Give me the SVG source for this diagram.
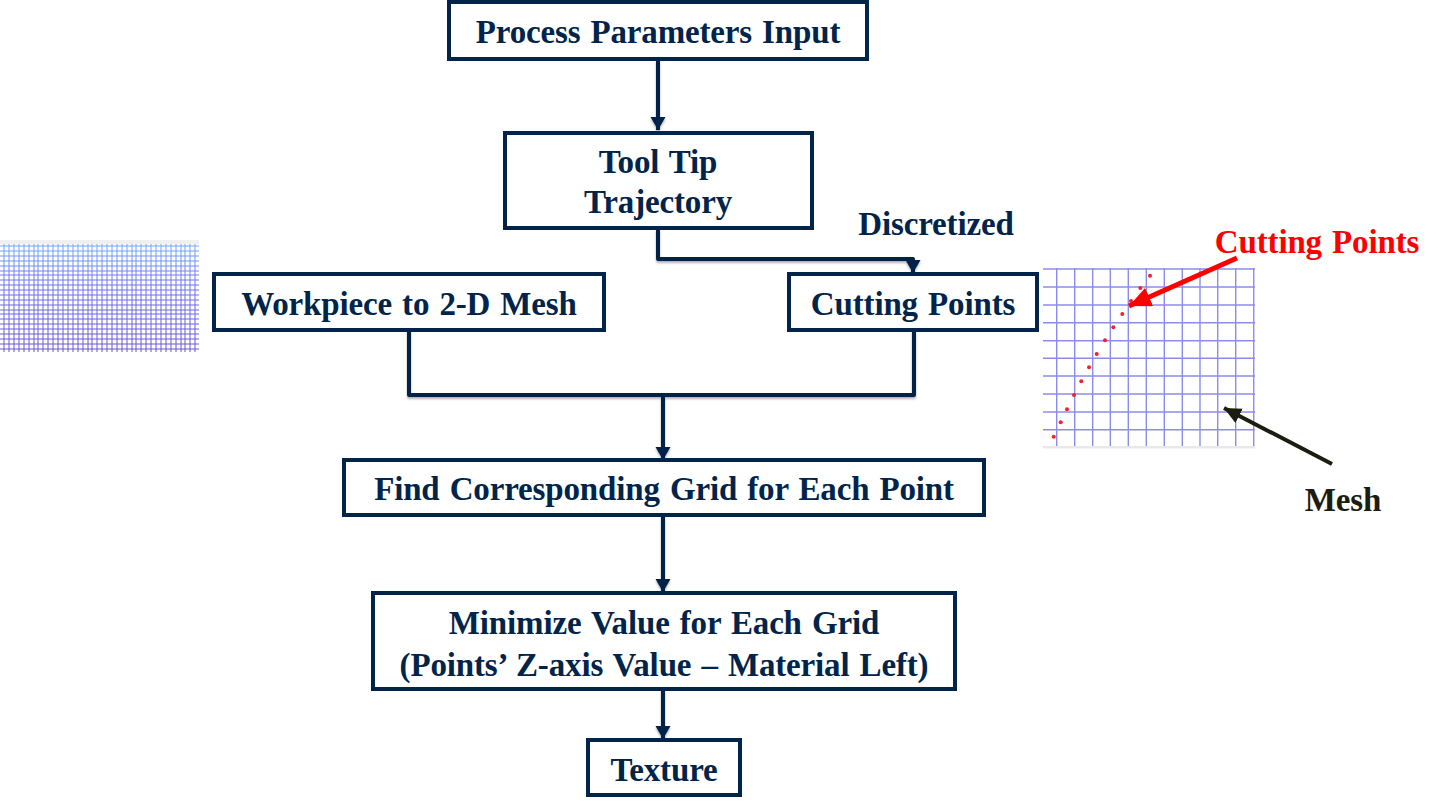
<svg xmlns="http://www.w3.org/2000/svg" width="1445" height="808" viewBox="0 0 1445 808">
<style>
.b{fill:#fff;stroke:#02244a;stroke-width:4}
.t{font-family:"Liberation Serif","Times New Roman",serif;font-weight:700;font-size:33px;fill:#02244a;text-anchor:middle;letter-spacing:-.15px;word-spacing:2px}
.c{fill:none;stroke:#02244a;stroke-width:4;stroke-linejoin:round}
.m{fill:none;stroke:#6f6fe8;stroke-width:1.4;opacity:.8}
</style>
<defs>
<filter id="s" filterUnits="userSpaceOnUse" x="380" y="40" width="560" height="720"><feDropShadow dx="0" dy="2" stdDeviation="1.2" flood-color="#000" flood-opacity=".3"/></filter>
<marker id="a" markerUnits="userSpaceOnUse" markerWidth="16" markerHeight="16" refX="13" refY="7.5" orient="auto"><path d="M0 0L13 7.5L0 15Z" fill="#02244a"/></marker>
<marker id="r" markerUnits="userSpaceOnUse" markerWidth="24" markerHeight="22" refX="22" refY="10" orient="auto"><path d="M0 0L22 10L0 20Z" fill="#f00"/></marker>
<marker id="k" markerUnits="userSpaceOnUse" markerWidth="20" markerHeight="18" refX="17" refY="8" orient="auto"><path d="M0 0L17 8L0 16Z" fill="#1c1c10"/></marker>
<linearGradient id="g" gradientUnits="userSpaceOnUse" x1="0" y1="240" x2="0" y2="352"><stop offset="0" stop-color="#6fb0ff"/><stop offset=".4" stop-color="#6f70f0"/><stop offset="1" stop-color="#6a55d0"/></linearGradient>
</defs>
<rect width="1445" height="808" fill="#fff"/>
<g id="mesh-left">
<rect x="0" y="240" width="199" height="4" fill="#f0f0f0"/>
<path fill="none" stroke="url(#g)" stroke-width="1" d="M4 244V352M9 244V352M14 244V352M19 244V352M24 244V352M29 244V352M34 244V352M38 244V352M43 244V352M48 244V352M53 244V352M58 244V352M63 244V352M68 244V352M73 244V352M78 244V352M83 244V352M88 244V352M92 244V352M97 244V352M102 244V352M107 244V352M112 244V352M117 244V352M122 244V352M127 244V352M132 244V352M136 244V352M141 244V352M146 244V352M151 244V352M156 244V352M161 244V352M166 244V352M171 244V352M176 244V352M181 244V352M185 244V352M190 244V352M195 244V352M0 246H199M0 251H199M0 256H199M0 261H199M0 266H199M0 271H199M0 275H199M0 280H199M0 285H199M0 290H199M0 295H199M0 300H199M0 305H199M0 310H199M0 314H199M0 319H199M0 324H199M0 329H199M0 334H199M0 339H199M0 344H199M0 349H199"/>
</g>
<g id="mesh-right">
<path class="m" d="M1056.7 268V447M1074.7 268V447M1092.7 268V447M1110.3 268V447M1128.3 268V447M1146.3 268V447M1164.3 268V447M1182.3 268V447M1200 268V447M1217.7 268V447M1235.7 268V447M1253.7 268V447M1043 269H1255M1043 287H1255M1043 305H1255M1043 322.7H1255M1043 340.7H1255M1043 358.3H1255M1043 376H1255M1043 394H1255M1043 412H1255M1043 429.7H1255"/>
<rect x="1043" y="446" width="212" height="2.4" fill="#e8e8e8"/>
<g fill="#f4202a"><circle cx="1150" cy="275.7" r="2"/><circle cx="1140.3" cy="288" r="2"/><circle cx="1131" cy="301" r="2"/><circle cx="1122.3" cy="314" r="2"/><circle cx="1113.3" cy="327.3" r="2"/><circle cx="1105" cy="340.3" r="2"/><circle cx="1096.7" cy="354" r="2"/><circle cx="1089" cy="367.3" r="2"/><circle cx="1081.3" cy="381.3" r="2"/><circle cx="1074" cy="395" r="2"/><circle cx="1067" cy="409.3" r="2"/><circle cx="1060.7" cy="422.3" r="2"/><circle cx="1053.7" cy="436.7" r="2"/></g>
</g>
<g id="connectors">
<g filter="url(#s)">
<path class="c" marker-end="url(#a)" d="M658 60V130"/>
<path class="c" marker-end="url(#a)" d="M658 229V259H913V273"/>
<path class="c" d="M409 330V395H914V330"/>
<path class="c" marker-end="url(#a)" d="M663 395V460"/>
<path class="c" marker-end="url(#a)" d="M663 515V592"/>
<path class="c" marker-end="url(#a)" d="M663 689V739"/>
</g>
<path fill="none" stroke="#f00" stroke-width="5" marker-end="url(#r)" d="M1237 258L1129 306"/>
<path fill="none" stroke="#1c1c10" stroke-width="4" marker-end="url(#k)" d="M1332 464L1224 408"/>
</g>
<g id="n1"><rect class="b" x="449" y="2" width="418" height="57"/><text class="t" x="658" y="43">Process Parameters Input</text></g>
<g id="n2"><rect class="b" x="505" y="133" width="307" height="95"/><text class="t" x="658" y="173">Tool Tip</text><text class="t" x="658" y="213">Trajectory</text></g>
<g id="n3"><rect class="b" x="214" y="274" width="390" height="56"/><text class="t" x="409" y="315">Workpiece to 2-D Mesh</text></g>
<g id="n4"><rect class="b" x="789" y="274" width="248" height="56"/><text class="t" x="913" y="315">Cutting Points</text></g>
<g id="n5"><rect class="b" x="344" y="460" width="640" height="55"/><text class="t" x="664" y="500">Find Corresponding Grid for Each Point</text></g>
<g id="n6"><rect class="b" x="373" y="593" width="582" height="96"/><text class="t" x="664" y="634">Minimize Value for Each Grid</text><text class="t" x="664" y="676">(Points’ Z-axis Value – Material Left)</text></g>
<g id="n7"><rect class="b" x="588" y="740" width="152" height="55"/><text class="t" x="664" y="781">Texture</text></g>
<g id="labels">
<text class="t" x="936" y="235">Discretized</text>
<text class="t" x="1317" y="253" style="fill:#f00">Cutting Points</text>
<text class="t" x="1343" y="511" style="fill:#1c1c10">Mesh</text>
</g>
</svg>
